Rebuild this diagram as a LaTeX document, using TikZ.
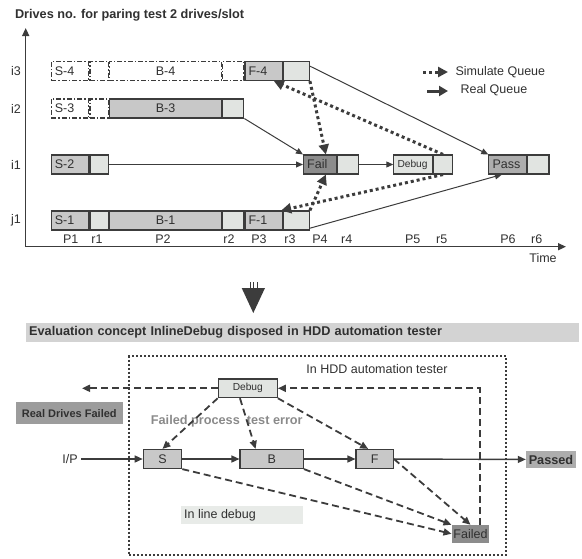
\documentclass[tikz,border=0pt]{standalone}
\usepackage{fontspec}
\setmainfont{Liberation Sans}
\usetikzlibrary{arrows.meta,positioning,calc}
\newcommand{\rowh}{19pt}
\newcommand{\thinw}{1.1pt}
\newcommand{\lbfont}{\fontsize{12.5}{14}\selectfont}
\newcommand{\smfont}{\fontsize{10.2}{12}\selectfont}
\newcommand{\bfont}{\fontsize{12.7}{15}\selectfont\bfseries}
\newcommand{\rdfont}{\fontsize{11}{13}\selectfont\bfseries}
\definecolor{edgec}{HTML}{3C3C3C}
\definecolor{txtc}{HTML}{303030}
\definecolor{cellgray}{HTML}{C8C8C8}
\definecolor{celllight}{HTML}{E1E4E1}
\definecolor{failgray}{HTML}{8C8C8C}
\definecolor{passgray}{HTML}{ADADAD}
\definecolor{bannergray}{HTML}{D3D3D3}
\definecolor{rdfgray}{HTML}{9C9C9C}
\definecolor{ildgray}{HTML}{E8EBE8}
\definecolor{fptgray}{HTML}{8A8A8A}

\begin{document}
\begin{tikzpicture}[x=1pt,y=-1pt,font=\lbfont,text=txtc]

	\tikzset{
		cell/.style={draw=edgec, line width=\thinw, minimum height=\rowh, inner sep=0pt, anchor=west},
		pc/.style={cell, fill=cellgray, minimum width=#1},
		rc/.style={cell, fill=celllight, minimum width=#1},
		gc/.style={cell, dash pattern=on 5pt off 2pt on 1.5pt off 2pt, minimum width=#1},
		ltxt/.style={label={[anchor=west, inner sep=0pt, xshift=4pt]west:#1}},
		bcell/.style={draw=edgec, line width=1.2pt, minimum height=19pt, inner sep=0pt},
		axis/.style={edgec, line width=1.5pt, {Triangle[length=8pt,width=7pt]}-{Triangle[length=8pt,width=7pt]}},
		sol/.style={edgec, line width=1pt, -{Triangle[length=7pt,width=6pt]}},
		bsol/.style={edgec, line width=1.4pt, -{Triangle[length=8pt,width=7pt]}},
		simq/.style={edgec, line width=3pt, dash pattern=on 3pt off 3pt, -{Triangle[length=10pt,width=10pt]}},
		realq/.style={edgec, line width=3pt, -{Triangle[length=9pt,width=10pt]}},
		dsh/.style={edgec, line width=1.8pt, dash pattern=on 7pt off 4pt, -{Triangle[length=8pt,width=7pt]}},
		tester/.style={draw=edgec, line width=2pt, dash pattern=on 2pt off 2pt, inner sep=0pt},
		banner/.style={anchor=west, fill=bannergray, minimum height=18.5pt, text width=547pt, inner xsep=3pt, inner ysep=0pt, align=left, font=\bfont}
	}
	\useasboundingbox (0,0) rectangle (582,558);

	\node[anchor=west, font=\bfont] (title) at (11.5,15) {Drives no. for paring test 2 drives/slot};

	% axes
	\coordinate (o) at (25.7,246.7);
	\coordinate (ytop) at (25.7,28);
	\coordinate (xend) at (566,246.7);
	\draw[axis] (ytop) -- (o) -- (xend);
	\node (time) at (543,258) {Time};

	\foreach \n/\y in {i3/71, i2/108.5, i1/164.5, j1/220.5}
		\node (lab\n) at (16,\y) {\n};
	\foreach \t/\x in {P1/70.7, r1/97, P2/163, r2/229, P3/259, r3/290, P4/320, r4/346.7, P5/412.7, r5/441.7, P6/508, r6/536.7}
		\node (t\t) at (\x,239.5) {\t};

	% row j1
	\node[pc=37.6pt, ltxt=S-1] (s1) at (50.7,220.5) {};
	\node[rc=18.4pt] (q1) at (s1.east) {};
	\node[pc=112.3pt] (b1) at (q1.east) {B-1};
	\node[rc=21pt] (q2) at (b1.east) {};
	\node[pc=37.7pt, ltxt=F-1] (f1) at (q2.east) {};
	\node[rc=25.6pt] (q3) at (f1.east) {};

	% row i1
	\node[pc=37.6pt, ltxt=S-2] (s2) at (50.7,164.5) {};
	\node[rc=18.4pt] (q21) at (s2.east) {};
	\node[cell, fill=failgray, minimum width=33pt, ltxt=Fail] (fail) at (303,164.5) {};
	\node[rc=21pt] (qf) at (fail.east) {};
	\node[cell, fill=celllight, minimum width=38.4pt, ltxt={\smfont Debug}] (dbg) at (393.3,164.5) {};
	\node[rc=19.3pt] (qd) at (dbg.east) {};
	\node[cell, fill=passgray, minimum width=37.7pt, ltxt=Pass] (pass) at (488.3,164.5) {};
	\node[rc=21.3pt] (qp) at (pass.east) {};

	% row i2
	\node[gc=37.6pt, ltxt=S-3] (s3) at (50.7,108.5) {};
	\node[gc=18.4pt] (g3) at (s3.east) {};
	\node[pc=112.3pt] (b3) at (g3.east) {B-3};
	\node[rc=21pt] (q32) at (b3.east) {};

	% row i3
	\node[gc=37.6pt, ltxt=S-4] (s4) at (50.7,71) {};
	\node[gc=18.4pt] (g4) at (s4.east) {};
	\node[gc=112.3pt] (b4) at (g4.east) {B-4};
	\node[gc=21pt] (g42) at (b4.east) {};
	\node[pc=37.7pt, ltxt=F-4] (f4) at (g42.east) {};
	\node[rc=25.6pt] (q43) at (f4.east) {};

	% real queue
	\draw[sol] (q43.20) -- (pass.north west);
	\draw[sol] (q32.south east) -- (fail.north west);
	\draw[sol] (q21.east) -- (fail.west);
	\draw[sol] (q3.-30) -- ($(pass.south west)!0.35!(pass.south east)$);
	\draw[sol] (qf.east) -- (dbg.west);

	% simulate queue
	\draw[simq] (qd.north) -- (f4.-45);
	\draw[simq] (q43.south east) -- (fail.60);
	\draw[simq] (qd.south) -- (f1.30);
	\draw[simq] (q3.north east) -- (fail.-60);

	% legend
	\node[anchor=west] (simtxt) at (452,72) {Simulate Queue};
	\node[anchor=west] (realtxt) at (457,90.5) {Real Queue};
	\coordinate (sima) at (423,72);
	\coordinate (simb) at (448,72);
	\coordinate (reala) at (427,91);
	\coordinate (realb) at (448,91);
	\draw[simq] (sima) -- (simb);
	\draw[realq] (reala) -- (realb);

	% big arrow down
	\foreach \x in {250,253.5,257}
		\draw[edgec, line width=1pt] (\x,282) -- (\x,292);
	\fill[edgec] (241.7,288) -- (265,288) -- (253.3,313) -- cycle;

	\node[banner] (ban) at (26,332.5) {Evaluation concept InlineDebug disposed in HDD automation tester};

	\node[tester, minimum width=376.7pt, minimum height=199pt] (tester) at (317.65,455.5) {};
	\node (hddtxt) at (377,369.3) {In HDD automation tester};

	\node[bcell, fill=celllight, minimum width=59pt, minimum height=18.7pt, font=\smfont] (dbgb) at (247.8,388.3) {Debug};
	\node[fill=rdfgray, minimum width=106.7pt, minimum height=22pt, inner sep=0pt, font=\rdfont] (rdf) at (69.3,413.3) {Real Drives Failed};
	\node[text=fptgray, font=\bfont] (fpt) at (226.8,421.7) {Failed process\ \ test error};
	\node (ip) at (70,459) {I/P};
	\node[bcell, fill=cellgray, minimum width=38.4pt] (sn) at (162.5,459) {S};
	\node[bcell, fill=cellgray, minimum width=63.3pt] (bn) at (271.7,459) {B};
	\node[bcell, fill=cellgray, minimum width=37.3pt] (fn) at (374.7,459) {F};
	\node[fill=passgray, minimum width=50pt, minimum height=16.6pt, inner sep=0pt, font=\bfont] (passed) at (551,459.5) {Passed};
	\node[fill=failgray, minimum width=37.6pt, minimum height=17.7pt, inner sep=0pt] (failed) at (470.5,533.8) {Failed};
	\node[fill=ildgray, minimum width=121.7pt, minimum height=18.3pt, inner sep=0pt, anchor=west, label={[anchor=west, inner sep=0pt, xshift=3pt]west:In line debug}] (ild) at (181,515.2) {};

	\draw[bsol] (ip) -- (sn);
	\draw[bsol] (sn) -- (bn);
	\draw[bsol] (bn) -- (fn);
	\draw[bsol] (fn) -- (passed);

	\coordinate (rdfout) at (82,388.3);
	\draw[dsh] (dbgb.west) -- (rdfout);
	\draw[dsh] ([xshift=9.5pt]failed.north) |- (dbgb.east);
	\draw[dsh] (dbgb.south west) -- (sn.north);
	\draw[dsh] ($(dbgb.south west)!0.37!(dbgb.south east)$) -- ($(bn.north west)!0.25!(bn.north east)$);
	\draw[dsh] (dbgb.south east) -- ($(fn.north west)!0.33!(fn.north east)$);
	\draw[dsh] (sn.south east) -- (failed.west);
	\draw[dsh] (bn.south east) -- (failed.north west);
	\draw[dsh] (fn.east) -- (failed.north);

\end{tikzpicture}
\end{document}
